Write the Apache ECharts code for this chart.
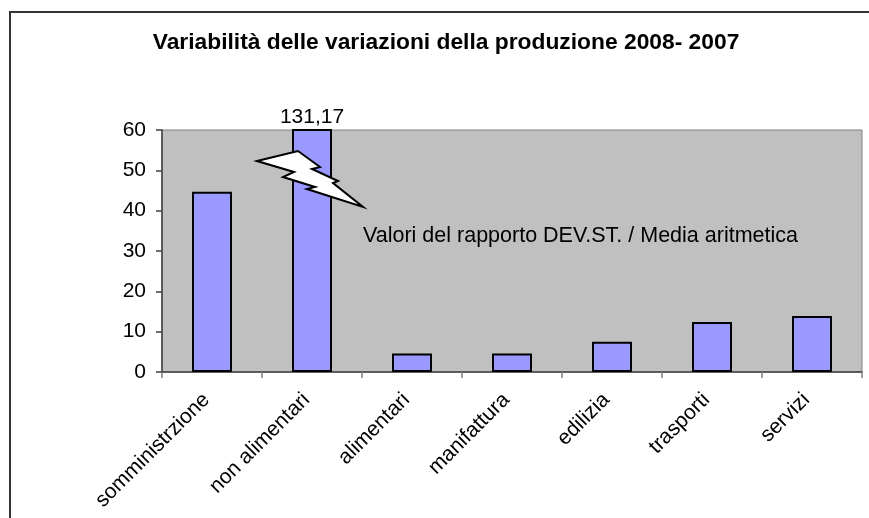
<!DOCTYPE html>
<html>
<head>
<meta charset="utf-8">
<script src="https://cdn.jsdelivr.net/npm/echarts@6/dist/echarts.min.js"></script>
<style>
  html, body { margin: 0; padding: 0; background: #ffffff; }
  #chart { width: 869px; height: 518px; }
</style>
</head>
<body>
<div id="chart"></div>
<script>
// Sector categories and ratio DEV.ST. / media aritmetica
const categories = ['somministrzione', 'non alimentari', 'alimentari', 'manifattura', 'edilizia', 'trasporti', 'servizi'];
const ratioValues = [44.7, 131.17, 4.6, 4.6, 7.5, 12.4, 13.9];
const yTicks = { min: 0, max: 60, step: 10 };

const titleText = 'Variabilità delle variazioni della produzione 2008- 2007';
const noteText = 'Valori del rapporto DEV.ST. / Media aritmetica';

const FONT = '"Liberation Sans", Arial, sans-serif';
const fmtComma = v => v.toFixed(2).replace('.', ',');

// The off-scale bar gets its value written at the top edge of the plot
const offScale = ratioValues
  .map((v, i) => ({ v, i }))
  .filter(d => d.v > yTicks.max)
  .map(d => ({ coord: [d.i, yTicks.max], value: d.v }));

const chart = echarts.init(document.getElementById('chart'), null, { renderer: 'canvas' });

chart.setOption({
  backgroundColor: '#ffffff',
  animation: false,
  textStyle: { fontFamily: FONT },
  grid: {
    left: 162, top: 130, right: 7, bottom: 146,
    show: true,
    backgroundColor: '#C0C0C0',
    borderColor: '#808080',
    borderWidth: 1
  },
  xAxis: {
    type: 'category',
    data: categories,
    boundaryGap: true,
    axisLine: { lineStyle: { color: '#404040', width: 1.5 } },
    axisTick: { show: true, length: 6, lineStyle: { color: '#808080', width: 1.5 } },
    axisLabel: {
      rotate: 45,
      interval: 0,
      margin: 19,
      padding: [0, 8, 0, 0],
      fontSize: 21,
      color: '#000',
      fontFamily: FONT
    },
    splitLine: { show: false }
  },
  yAxis: {
    type: 'value',
    min: yTicks.min,
    max: yTicks.max,
    interval: yTicks.step,
    axisLine: { show: true, lineStyle: { color: '#404040', width: 1.5 } },
    axisTick: { show: true, length: 6, lineStyle: { color: '#404040', width: 1.5 } },
    axisLabel: { fontSize: 21, color: '#000', margin: 16, fontFamily: FONT },
    splitLine: { show: false }
  },
  series: [{
    type: 'bar',
    data: ratioValues,
    barWidth: '40%',
    clip: true,
    itemStyle: { color: '#9999FF', borderColor: '#000', borderWidth: 2 },
    markPoint: {
      symbol: 'circle',
      symbolSize: 0,
      silent: true,
      label: {
        show: true,
        position: 'top',
        distance: 2,
        fontSize: 21,
        color: '#000',
        fontFamily: FONT,
        formatter: p => fmtComma(p.value)
      },
      data: offScale
    }
  }],
  graphic: [
    {
      // chart frame
      type: 'rect',
      shape: { x: 10, y: 12, width: 900, height: 600 },
      style: { fill: null, stroke: '#333', lineWidth: 2 },
      silent: true
    },
    {
      type: 'text',
      x: 446, y: 43,
      style: {
        text: titleText,
        font: 'bold 22.8px ' + FONT,
        fill: '#000',
        textAlign: 'center',
        textVerticalAlign: 'middle'
      }
    },
    {
      // axis break marker across the off-scale bar
      type: 'polygon',
      shape: {
        points: [
          [257, 161], [298, 151], [320, 167], [312, 169], [338, 181], [333, 183],
          [363, 207], [307, 189], [315, 187], [283, 177], [294, 172]
        ]
      },
      style: { fill: '#fff', stroke: '#000', lineWidth: 2, lineJoin: 'miter' },
      z: 100
    },
    {
      type: 'text',
      x: 363, y: 236,
      style: {
        text: noteText,
        font: '21.5px ' + FONT,
        fill: '#000',
        textAlign: 'left',
        textVerticalAlign: 'middle'
      },
      z: 100
    }
  ]
});
</script>
</body>
</html>
